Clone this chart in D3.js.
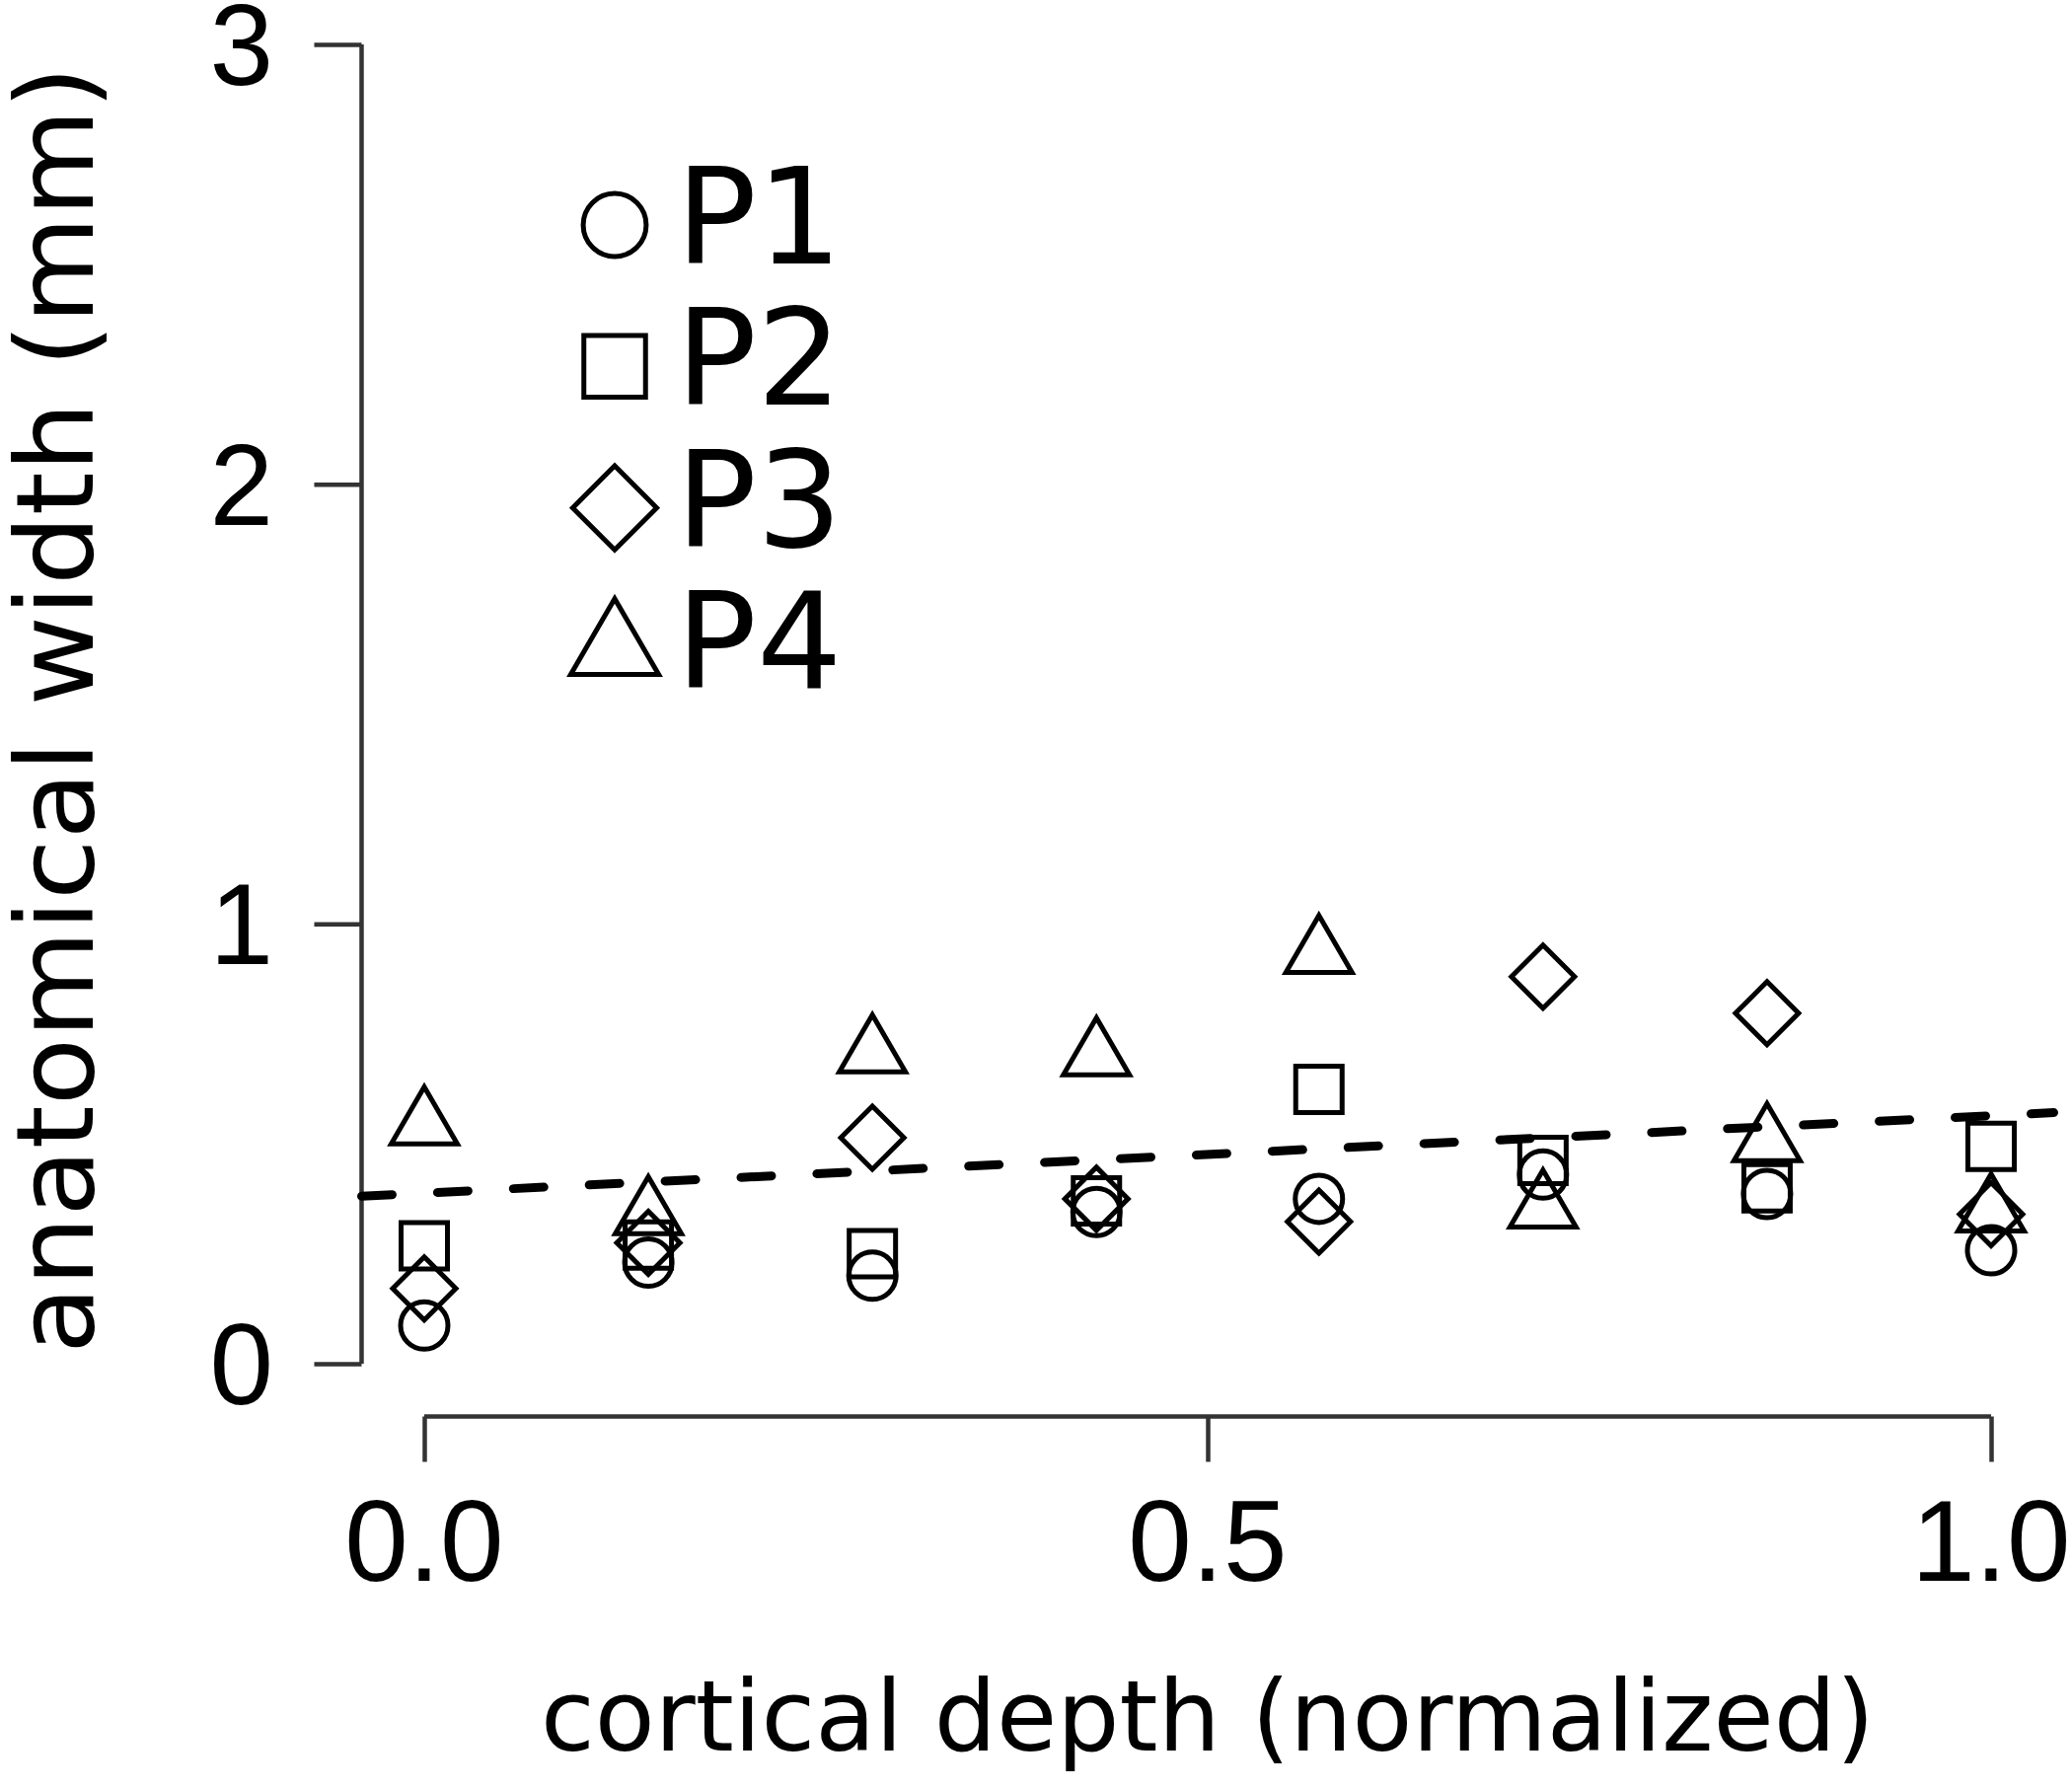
<!DOCTYPE html>
<html>
<head>
<meta charset="utf-8">
<script src="https://cdn.jsdelivr.net/npm/d3@7"></script>
<style>
  html, body { margin: 0; padding: 0; background: #fff; }
  svg { display: block; }
</style>
</head>
<body>
<svg id="chart" width="2100" height="1813"></svg>
<script>
// ---- data ----
const depth = [0, 0.143, 0.286, 0.429, 0.571, 0.714, 0.857, 1.0];
const seriesNames = ["P1", "P2", "P3", "P4"];
const seriesShapes = ["circle", "square", "diamond", "triangle"];
const p1 = [0.087, 0.23, 0.20, 0.345, 0.375, 0.43, 0.386, 0.258];
const p2 = [0.268, 0.27, 0.25, 0.37, 0.624, 0.462, 0.40, 0.494];
const p3 = [0.171, 0.275, 0.514, 0.375, 0.323, 0.88, 0.797, 0.34];
const p4 = [0.543, 0.339, 0.707, 0.70, 0.933, 0.354, 0.505, 0.345];
const fitIntercept = 0.388;
const fitSlope = 0.176;
const xTicks = [0, 0.5, 1.0];
const xTickLabels = ["0.0", "0.5", "1.0"];
const yTicks = [0, 1, 2, 3];
const yTickLabels = ["0", "1", "2", "3"];
const xTitle = "cortical depth (normalized)";
const yTitle = "anatomical width (mm)";

const allSeries = [p1, p2, p3, p4];

// ---- layout ----
const svg = d3.select("#chart");
const x = d3.scaleLinear().domain([0, 1]).range([430, 2018]);
const y = d3.scaleLinear().domain([0, 3]).range([1382, 45]);
const xUsr = [-0.04, 1.04];
const yAxisX = x(xUsr[0]);      // y axis drawn at left of plot region
const xAxisY = y(-0.12);        // x axis drawn at bottom of plot region
const axisColor = "#333";
const axisW = 4.5;
const markW = 5;

// marker path generator (R pch 1,0,5,2 style)
function markerPath(shape, k) {
  const p = d3.path();
  if (shape === "circle") {
    const r = 24 * k; p.moveTo(r, 0); p.arc(0, 0, r, 0, 2 * Math.PI);
  } else if (shape === "square") {
    const h = 23.5 * k; p.rect(-h, -h, 2 * h, 2 * h);
  } else if (shape === "diamond") {
    const h = 32 * k; p.moveTo(0, -h); p.lineTo(h, 0); p.lineTo(0, h); p.lineTo(-h, 0); p.closePath();
  } else {
    const r = 38.5 * k, xc = 33.5 * k, yc = r / 2;
    p.moveTo(0, -r); p.lineTo(xc, yc); p.lineTo(-xc, yc); p.closePath();
  }
  return p.toString();
}

// ---- y axis ----
const gy = svg.append("g").attr("transform", `translate(${yAxisX},0)`);
const yAxis = d3.axisLeft(y).tickValues(yTicks).tickSize(48).tickPadding(0).tickFormat(() => "");
gy.call(yAxis);
gy.select(".domain").attr("d", `M0,${y(3)}V${y(0)}`).attr("stroke", axisColor).attr("stroke-width", axisW).attr("fill", "none");
gy.selectAll(".tick line").attr("stroke", axisColor).attr("stroke-width", axisW);
svg.append("g").selectAll("text").data(yTicks).join("text")
  .attr("x", 277).attr("y", d => y(d) + 41)
  .attr("text-anchor", "end")
  .attr("font-family", "'Liberation Sans', Arial, sans-serif")
  .attr("font-size", 116).attr("fill", "#000")
  .text((d, i) => yTickLabels[i]);

// ---- x axis ----
const gx = svg.append("g").attr("transform", `translate(0,${xAxisY})`);
const xAxis = d3.axisBottom(x).tickValues(xTicks).tickSize(46).tickFormat(() => "");
gx.call(xAxis);
gx.select(".domain").attr("d", `M${x(0)},0H${x(1)}`).attr("stroke", axisColor).attr("stroke-width", axisW).attr("fill", "none");
gx.selectAll(".tick line").attr("stroke", axisColor).attr("stroke-width", axisW);
svg.append("g").selectAll("text").data(xTicks).join("text")
  .attr("x", d => x(d)).attr("y", 1602)
  .attr("text-anchor", "middle")
  .attr("font-family", "'Liberation Sans', Arial, sans-serif")
  .attr("font-size", 116).attr("fill", "#000")
  .text((d, i) => xTickLabels[i]);

// ---- titles ----
svg.append("text")
  .attr("x", (x(xUsr[0]) + x(xUsr[1])) / 2).attr("y", 1774)
  .attr("text-anchor", "middle")
  .attr("font-family", "'DejaVu Sans', Verdana, sans-serif")
  .attr("font-size", 100)
  .attr("textLength", 1352).attr("lengthAdjust", "spacingAndGlyphs")
  .text(xTitle);
svg.append("text")
  .attr("transform", `translate(94,${(y(3.12) + y(-0.12)) / 2 + 6}) rotate(-90)`)
  .attr("text-anchor", "middle")
  .attr("font-family", "'DejaVu Sans', Verdana, sans-serif")
  .attr("font-size", 108)
  .attr("textLength", 1305).attr("lengthAdjust", "spacingAndGlyphs")
  .text(yTitle);

// ---- fitted dashed line ----
const line = d3.line().x(d => x(d)).y(d => y(fitIntercept + fitSlope * d));
svg.append("path")
  .attr("d", line(xUsr))
  .attr("fill", "none").attr("stroke", "#000")
  .attr("stroke-width", 9).attr("stroke-linecap", "round")
  .attr("stroke-dasharray", "31 46");

// ---- points ----
allSeries.forEach((vals, si) => {
  svg.append("g").selectAll("path").data(vals).join("path")
    .attr("transform", (v, i) => `translate(${x(depth[i])},${y(v)})`)
    .attr("d", markerPath(seriesShapes[si], 1))
    .attr("fill", "none").attr("stroke", "#000").attr("stroke-width", markW);
});

// ---- legend ----
const legRow = d3.scalePoint().domain(seriesNames).range([267, 697]);
const leg = svg.append("g");
seriesNames.forEach((name, i) => {
  const base = legRow(name);
  leg.append("path")
    .attr("transform", `translate(623,${base - 39})`)
    .attr("d", markerPath(seriesShapes[i], 1.33))
    .attr("fill", "none").attr("stroke", "#000").attr("stroke-width", markW);
  leg.append("text")
    .attr("x", 685).attr("y", base)
    .attr("font-family", "'DejaVu Sans', Verdana, sans-serif")
    .attr("font-size", 136).attr("fill", "#000")
    .text(name);
});
</script>
</body>
</html>
